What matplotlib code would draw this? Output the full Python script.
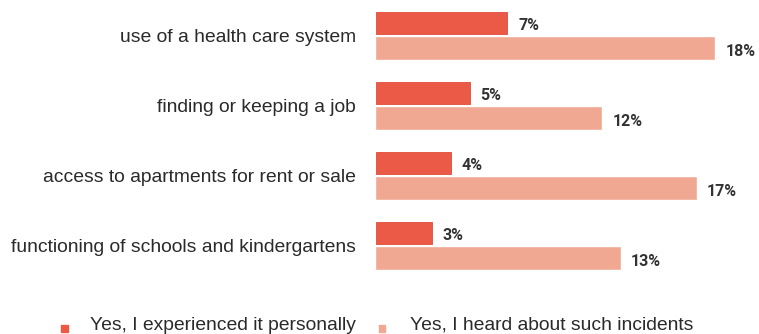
import matplotlib.pyplot as plt
from matplotlib.patches import Rectangle

# Kategoriler ve yüzdeler
categories = ['use of a health care system',
              'finding or keeping a job',
              'access to apartments for rent or sale',
              'functioning of schools and kindergartens']
personal = [7, 5, 4, 3]
heard = [18, 12, 17, 13]
series_names = ['Yes, I experienced it personally',
                'Yes, I heard about such incidents']

dark_red = '#EB5A47'
light_red = '#F1A893'
text_gray = '#2A2A2A'

plt.rcParams['font.family'] = ['Liberation Sans', 'DejaVu Sans']

W, H = 759, 334
fig = plt.figure(figsize=(W / 100, H / 100), dpi=100)

# Eksen: çubukların başladığı yerden sağ kenara kadar
ax_left = 375.5
px_per_pct = 18.83
ax = fig.add_axes([ax_left / W, 0, 1 - ax_left / W, 1])
ax.set_xlim(0, (W - ax_left) / px_per_pct)

group_px = 70.0
first_center_px = 35.35
ax.set_ylim((H - first_center_px) / group_px, -first_center_px / group_px)

bar_h = 21.7 / group_px
offset = 12.65 / group_px
pos = list(range(len(categories)))

b1 = ax.barh([p - offset for p in pos], personal, height=bar_h,
             color=dark_red, edgecolor='#E24C3B', linewidth=0.6)
b2 = ax.barh([p + offset for p in pos], heard, height=bar_h,
             color=light_red, edgecolor='#F3B4A2', linewidth=0.6)

for bars, vals in ((b1, personal), (b2, heard)):
    for rect, v in zip(bars, vals):
        ax.annotate(f'{v}%', (v, rect.get_y() + rect.get_height() / 2),
                    xytext=(7.8, -1.2), textcoords='offset points',
                    ha='left', va='center_baseline', fontsize=11.5,
                    fontweight='bold', color='#333333',
                    family=['Roboto', 'DejaVu Sans'])

ax.set_yticks(pos)
ax.set_yticklabels(categories, fontsize=13.85, color=text_gray)
ax.tick_params(axis='y', length=0, pad=14)
ax.set_xticks([])
for s in ax.spines.values():
    s.set_visible(False)

# Alt kısımdaki açıklama (legend)
legend_items = [(61, 90, dark_red), (378.5, 410, light_red)]
for (mx, tx, col), name in zip(legend_items, series_names):
    fig.patches.append(Rectangle((mx / W, (H - 332) / H), 6.5 / W, 7 / H,
                                 transform=fig.transFigure, color=col))
    fig.text(tx / W, (H - 330) / H, name, fontsize=13.9, color=text_gray,
             ha='left', va='baseline')

fig.savefig('out.png', dpi=100)
